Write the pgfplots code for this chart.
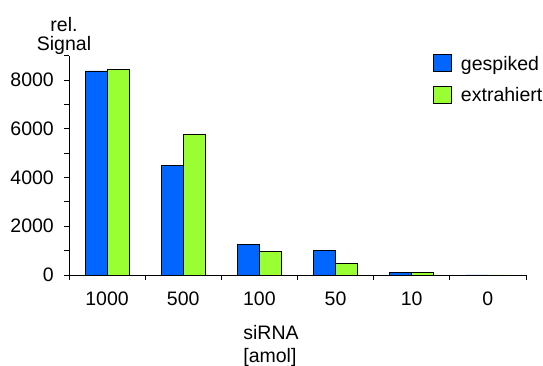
\documentclass[border=0pt]{standalone}
\usepackage{fontspec}
\setmainfont{Liberation Sans}
\usepackage{pgfplots}
\pgfplotsset{compat=1.18}
\definecolor{cblue}{RGB}{0,102,255}
\definecolor{cgreen}{RGB}{153,255,51}
\begin{document}
\begin{tikzpicture}[font=\fontsize{19.5}{19}\selectfont]
\useasboundingbox (-69pt,-91pt) rectangle (474pt,275pt);
\begin{axis}[
  scale only axis,
  width=457pt, height=219.4pt,
  xmin=-0.5, xmax=5.5,
  ymin=0, ymax=9000,
  axis x line*=bottom, axis y line*=left,
  axis line style={-, black, line width=0.8pt},
  tick align=outside,
  tick style={black, line width=0.8pt},
  major tick length=5pt, minor tick length=5pt,
  xtick={0,1,2,3,4,5},
  xticklabels={1000,500,100,50,10,0},
  major x tick style={draw=none},
  minor xtick={-0.5,0.5,1.5,2.5,3.5,4.5,5.5},
  ytick={0,2000,4000,6000,8000},
  yticklabels={0\hspace{11pt},2000,4000,6000,8000},
  minor ytick={1000,3000,5000,7000,9000},
  scaled y ticks=false,
  yticklabel style={inner sep=0pt, xshift=-10pt},
  xticklabel style={inner sep=0pt, yshift=-12pt},
  ybar=0pt, bar width=22pt,
  ylabel={rel.\\Signal},
  ylabel style={rotate=-90, align=center, inner sep=0pt, at={(axis description cs:0,1)}, anchor=south, xshift=-5pt, yshift=1pt},
  xlabel={siRNA\\[3.7pt][amol]},
  xlabel style={align=left, inner sep=0pt, at={(axis description cs:0.442,0)}, anchor=north, yshift=-50pt},
  legend style={draw=none, fill=none, at={(rel axis cs:0.7965,1.008)}, anchor=north west, inner sep=0pt, nodes={inner sep=0pt}, row sep=14pt, column sep=9pt},
  legend image code/.code={\draw[#1,draw=black,line width=0.8pt] (0pt,-7.7pt) rectangle (18pt,9.3pt);},
  legend cell align=left,
]
\addplot[fill=cblue, draw=black, line width=0.8pt] coordinates {(0,8370) (1,4510) (2,1260) (3,1000) (4,100) (5,0)};
\addplot[fill=cgreen, draw=black, line width=0.8pt] coordinates {(0,8450) (1,5770) (2,960) (3,480) (4,90) (5,0)};
\legend{gespiked, extrahiert}
\end{axis}
\end{tikzpicture}
\end{document}
